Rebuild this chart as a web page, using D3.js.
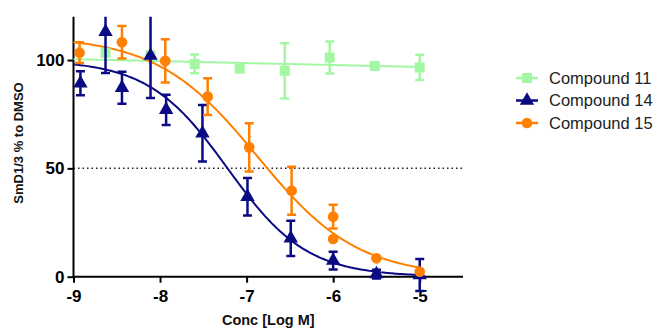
<!DOCTYPE html>
<html>
<head>
<meta charset="utf-8">
<script src="https://cdn.jsdelivr.net/npm/d3@7"></script>
<style>
  body { margin: 0; background: #fff; }
  svg { display: block; font-family: Arial, "Liberation Sans", sans-serif; }
</style>
</head>
<body>
<svg id="chart" width="655" height="329"></svg>
<script>
// Compound 11 (green squares)
const c11Conc = [-8.63, -8.11, -7.6, -7.08, -6.56, -6.04, -5.52, -5.0];
const c11Mean = [103.4, 102.3, 98.2, 96.0, 95.0, 101.2, 97.2, 96.6];
const c11Err  = [1.5, 1.5, 4.3, 1.0, 12.7, 7.4, 1.0, 5.8];
const c11Fit  = { intercept: 100.4, slope: -0.9 }; // near-flat line

// Compound 14 (navy triangles)
const c14Conc = [-8.92, -8.63, -8.44, -8.11, -7.93, -7.51, -6.99, -6.49, -6.0, -5.5, -5.0];
const c14Mean = [89.3, 113, 87.2, 102, 77, 66.2, 36.9, 17.7, 7.4, 1.2, 0.8];
const c14Err  = [5.5, 19, 7.4, 19.5, 7, 13, 8.7, 8.1, 4.1, 2, 7.4];
const c14Fit  = { top: 100, bottom: 0, logIC50: -7.22, hill: 0.95 };

// Compound 15 (orange circles)
const c15Conc = [-8.93, -8.44, -7.94, -7.45, -6.97, -6.48, -6.0, -6.0, -5.5, -5.0];
const c15Mean = [103.4, 108.2, 99.6, 83.1, 59.7, 39.7, 27.7, 17.4, 8.5, 2.3];
const c15Err  = [4.8, 7.5, 10, 8.5, 11.1, 11.1, 5.5, 0, 0, 0];
const c15Fit  = { top: 111, bottom: 0, logIC50: -6.875, hill: 0.75 };

const xTicks = [-9, -8, -7, -6, -5];
const yTicks = [0, 50, 100];
const names = ['Compound 11', 'Compound 14', 'Compound 15'];
const colors = ['#a3f7a3', '#0a0a82', '#ff8000'];
const shapes = [d3.symbolSquare, d3.symbolTriangle, d3.symbolCircle];

const svg = d3.select('#chart');

const x = d3.scaleLinear().domain([-9, -4.5]).range([73.5, 463]);
const y = d3.scaleLinear().domain([0, 120]).range([276.7, 16.7]);

// clip at top of plot (error bars run off the top)
svg.append('defs').append('clipPath').attr('id', 'clip')
  .append('rect')
  .attr('x', 60).attr('y', y(120))
  .attr('width', 420).attr('height', 300);

// 50% dotted line
svg.append('line')
  .attr('x1', x(-9)).attr('x2', x(-4.5))
  .attr('y1', y(50)).attr('y2', y(50))
  .attr('stroke', '#222')
  .attr('stroke-width', 1.5)
  .attr('stroke-dasharray', '1.5,3');

// axes
const xAxis = svg.append('g')
  .attr('transform', 'translate(0,' + y(0) + ')')
  .call(d3.axisBottom(x).tickValues(xTicks).tickSize(6).tickPadding(7).tickFormat(d => String(d)));
const yAxis = svg.append('g')
  .attr('transform', 'translate(' + x(-9) + ',0)')
  .call(d3.axisLeft(y).tickValues(yTicks).tickSize(6).tickPadding(3));

[xAxis, yAxis].forEach(a => {
  a.selectAll('.tick line').attr('stroke', '#000').attr('stroke-width', 2);
  a.selectAll('.tick text')
    .attr('fill', '#000')
    .style('font-size', '17px')
    .style('font-weight', 'bold')
    .style('font-family', 'Arial, "Liberation Sans", sans-serif');
});
// plain axis lines (no end caps)
xAxis.select('.domain').remove();
yAxis.select('.domain').remove();
svg.append('line')
  .attr('x1', x(-9)).attr('x2', x(-4.5)).attr('y1', y(0)).attr('y2', y(0))
  .attr('stroke', '#000').attr('stroke-width', 2);
svg.append('line')
  .attr('x1', x(-9)).attr('x2', x(-9)).attr('y1', y(0) + 1).attr('y2', y(120))
  .attr('stroke', '#000').attr('stroke-width', 2);

// axis titles
svg.append('text')
  .attr('x', (x(-9) + x(-4.5)) / 2)
  .attr('y', 325)
  .attr('text-anchor', 'middle')
  .style('font-size', '14.5px')
  .style('font-weight', 'bold')
  .attr('fill', '#111')
  .text('Conc [Log M]');
svg.append('text')
  .attr('transform', 'translate(23,' + 143 + ') rotate(-90)')
  .attr('text-anchor', 'middle')
  .style('font-size', '13px')
  .style('font-weight', 'bold')
  .attr('fill', '#111')
  .text('SmD1/3 % to DMSO');

// curves
const plot = svg.append('g').attr('clip-path', 'url(#clip)');
const grid = d3.range(-9, -4.995, 0.02);
const logistic = p => v => p.bottom + (p.top - p.bottom) / (1 + Math.pow(10, (v - p.logIC50) * p.hill));
const fits = [
  v => c11Fit.intercept + c11Fit.slope * (v + 9),
  logistic(c14Fit),
  logistic(c15Fit)
];
const line = d3.line().x(d => x(d[0])).y(d => y(d[1]));

fits.forEach((f, i) => {
  plot.append('path')
    .datum(grid.map(v => [v, f(v)]))
    .attr('d', line)
    .attr('fill', 'none')
    .attr('stroke', colors[i])
    .attr('stroke-width', 2);
});

// error bars + markers
const series = [
  c11Conc.map((c, j) => ({ c: c, m: c11Mean[j], e: c11Err[j] })),
  c14Conc.map((c, j) => ({ c: c, m: c14Mean[j], e: c14Err[j] })),
  c15Conc.map((c, j) => ({ c: c, m: c15Mean[j], e: c15Err[j] }))
];
const sizes = [100, 90, 90];
const cap = 4.5;

series.forEach((data, i) => {
  const g = plot.append('g');
  const bars = g.selectAll('.err')
    .data(data.filter(d => d.e > 0))
    .enter().append('g')
    .attr('stroke', colors[i])
    .attr('stroke-width', 2.5);
  bars.append('line')
    .attr('x1', d => x(d.c)).attr('x2', d => x(d.c))
    .attr('y1', d => y(d.m - d.e)).attr('y2', d => y(d.m + d.e));
  bars.append('line')
    .attr('x1', d => x(d.c) - cap).attr('x2', d => x(d.c) + cap)
    .attr('y1', d => y(d.m + d.e)).attr('y2', d => y(d.m + d.e));
  bars.append('line')
    .attr('x1', d => x(d.c) - cap).attr('x2', d => x(d.c) + cap)
    .attr('y1', d => y(d.m - d.e)).attr('y2', d => y(d.m - d.e));

  g.selectAll('.pt')
    .data(data)
    .enter().append('path')
    .attr('transform', d => 'translate(' + x(d.c) + ',' + y(d.m) + ')')
    .attr('d', d3.symbol().type(shapes[i]).size(sizes[i]))
    .attr('fill', colors[i]);
});

// legend
const legend = svg.selectAll('.legend')
  .data(names)
  .enter().append('g')
  .attr('class', 'legend')
  .attr('transform', (d, i) => 'translate(516,' + (78 + i * 22.5) + ')');

legend.append('line')
  .attr('x1', 0).attr('x2', 22)
  .attr('stroke', (d, i) => colors[i])
  .attr('stroke-width', 2.5);
legend.append('path')
  .attr('transform', 'translate(11,0)')
  .attr('d', (d, i) => d3.symbol().type(shapes[i]).size(sizes[i])())
  .attr('fill', (d, i) => colors[i]);
legend.append('text')
  .attr('x', 33)
  .attr('y', 0)
  .attr('dy', '.35em')
  .style('font-size', '16.5px')
  .attr('fill', '#222')
  .text(d => d);
</script>
</body>
</html>
